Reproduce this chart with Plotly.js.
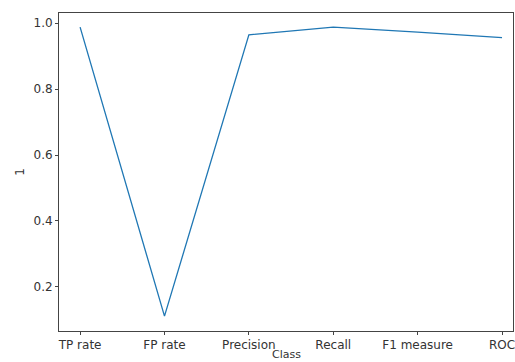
<!DOCTYPE html>
<html>
<head>
<meta charset="utf-8">
<script src="https://cdn.plot.ly/plotly-3.0.1.min.js"></script>
<style>html,body{margin:0;padding:0;background:#fff;}#chart{width:515px;height:362px;}</style>
</head>
<body>
<div id="chart"></div>
<script>
const categories = ["TP rate", "FP rate", "Precision", "Recall", "F1 measure", "ROC"];
const values = [0.988, 0.111, 0.965, 0.988, 0.973, 0.956];
const yTicks = [0.2, 0.4, 0.6, 0.8, 1.0];
const xTitle = "Class";
const yTitle = "1";

const font = {family: "DejaVu Sans, sans-serif", size: 12, color: "#333"};

Plotly.newPlot("chart", [{
  x: categories,
  y: values,
  type: "scatter",
  mode: "lines",
  line: {color: "#1f77b4", width: 1.3}
}], {
  width: 515,
  height: 362,
  margin: {l: 59, r: 2, t: 13, b: 31, pad: 0},
  paper_bgcolor: "#fff",
  plot_bgcolor: "#fff",
  showlegend: false,
  font: font,
  annotations: [{
    text: xTitle,
    xref: "paper", yref: "paper",
    x: 0.5, y: -0.097,
    xanchor: "center", yanchor: "bottom",
    showarrow: false,
    borderpad: 0,
    font: {family: font.family, size: 11, color: font.color}
  }],
  xaxis: {
    type: "category",
    range: [-0.25, 5.13],
    showgrid: false,
    zeroline: false,
    showline: true,
    mirror: true,
    linecolor: "#444",
    linewidth: 1,
    ticks: "outside",
    ticklen: 3,
    tickcolor: "#444",
    tickfont: font
  },
  yaxis: {
    range: [0.066, 1.031],
    tickvals: yTicks,
    ticktext: yTicks.map(v => v.toFixed(1)),
    showgrid: false,
    zeroline: false,
    showline: true,
    mirror: true,
    linecolor: "#444",
    linewidth: 1,
    ticks: "outside",
    ticklen: 3,
    tickcolor: "#444",
    tickfont: font,
    title: {text: yTitle, font: font, standoff: 6}
  }
}, {displayModeBar: false, staticPlot: true});
</script>
</body>
</html>
